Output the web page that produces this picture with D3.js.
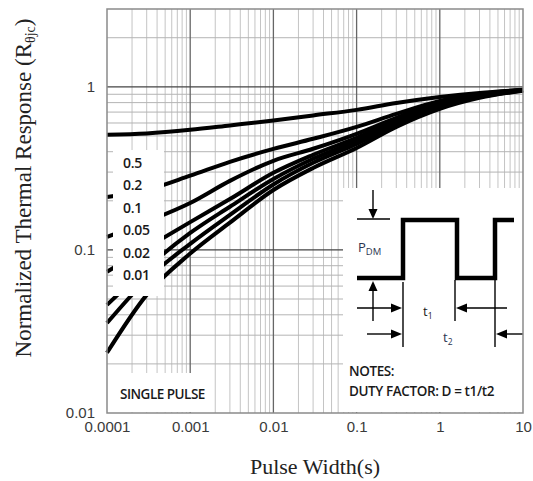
<!DOCTYPE html>
<html>
<head>
<meta charset="UTF-8">
<title>Normalized Thermal Response</title>
<script src="https://cdn.jsdelivr.net/npm/d3@7"></script>
<style>
  body { margin: 0; background: #fff; }
  svg { display: block; }
  .tick text { font-family: "Liberation Sans", Arial, sans-serif; font-size: 15px; fill: #3a3a3a; }
  .note { font-family: "Open Sans", "Liberation Sans", sans-serif; font-weight: 600; fill: #1a1a1a; }
</style>
</head>
<body>
<svg id="chart" width="533" height="481"></svg>
<script>
// pulse width (s) and normalized response per duty factor
var pulseWidth = [1e-4, 3e-4, 1e-3, 3e-3, 1e-2, 3e-2, 0.1, 0.3, 1, 3, 10];
var d05    = [0.508, 0.518, 0.545, 0.58, 0.622, 0.668, 0.722, 0.795, 0.865, 0.918, 0.958];
var d02    = [0.211, 0.233, 0.285, 0.347, 0.416, 0.48, 0.568, 0.683, 0.82, 0.905, 0.956];
var d01    = [0.120, 0.149, 0.194, 0.265, 0.352, 0.417, 0.515, 0.645, 0.798, 0.893, 0.955];
var d005   = [0.0735, 0.103, 0.148, 0.205, 0.297, 0.383, 0.487, 0.619, 0.776, 0.88, 0.953];
var d002   = [0.046, 0.0775, 0.127, 0.184, 0.272, 0.362, 0.466, 0.601, 0.765, 0.874, 0.951];
var d001   = [0.0356, 0.066, 0.109, 0.164, 0.252, 0.342, 0.447, 0.585, 0.754, 0.868, 0.949];
var single = [0.0234, 0.053, 0.095, 0.147, 0.233, 0.318, 0.422, 0.568, 0.733, 0.856, 0.945];

var dutyLabels = ["0.5", "0.2", "0.1", "0.05", "0.02", "0.01"];
var xTicks = [1e-4, 1e-3, 1e-2, 0.1, 1, 10];
var xTickLabels = ["0.0001", "0.001", "0.01", "0.1", "1", "10"];
var yTicks = [0.01, 0.1, 1];
var yTickLabels = ["0.01", "0.1", "1"];

var series = [d05, d02, d01, d005, d002, d001, single];

var pLeft = 107, pRight = 523, pTop = 9, pBottom = 413;

var x = d3.scaleLog().domain([1e-4, 10]).range([pLeft, pRight]);
var y = d3.scaleLog().domain([0.01, 3]).range([pBottom, pTop]);

var svg = d3.select("#chart");

// minor grid
var minorX = [];
[1e-4, 1e-3, 1e-2, 0.1, 1].forEach(function(dec) {
  for (var k = 2; k <= 9; k++) minorX.push(dec * k);
});
var minorY = [];
[0.01, 0.1].forEach(function(dec) {
  for (var k = 2; k <= 9; k++) minorY.push(dec * k);
});
minorY.push(2);

var grid = svg.append("g");
grid.selectAll(".vx").data(minorX).enter().append("line")
  .attr("x1", d => x(d)).attr("x2", d => x(d))
  .attr("y1", pTop).attr("y2", pBottom)
  .style("stroke", "#c4c4c4").style("stroke-width", 1);
grid.selectAll(".hy").data(minorY).enter().append("line")
  .attr("x1", pLeft).attr("x2", pRight)
  .attr("y1", d => y(d)).attr("y2", d => y(d))
  .style("stroke", "#b4b4b4").style("stroke-width", 1);

// decade lines
grid.selectAll(".vmaj").data(xTicks.slice(1, -1)).enter().append("line")
  .attr("x1", d => x(d)).attr("x2", d => x(d))
  .attr("y1", pTop).attr("y2", pBottom)
  .style("stroke", "#666").style("stroke-width", 1.3);
grid.selectAll(".hmaj").data([0.1, 1]).enter().append("line")
  .attr("x1", pLeft).attr("x2", pRight)
  .attr("y1", d => y(d)).attr("y2", d => y(d))
  .style("stroke", "#444").style("stroke-width", 1.3);

// curves
var line = d3.line()
  .x(function(d, i) { return x(pulseWidth[i]); })
  .y(function(d) { return y(d); })
  .curve(d3.curveMonotoneX);

svg.append("g").selectAll("path").data(series).enter().append("path")
  .attr("d", line)
  .style("fill", "none")
  .style("stroke", "#000")
  .style("stroke-width", 4);

// duty factor labels on a white patch
svg.append("rect").attr("x", 113).attr("y", 150).attr("width", 51).attr("height", 146).style("fill", "#fff");
svg.append("g").selectAll("text").data(dutyLabels).enter().append("text")
  .attr("class", "note")
  .attr("x", 123)
  .attr("y", function(d, i) { return 168 + i * 22.4; })
  .style("font-size", "14px")
  .style("letter-spacing", "-0.3px")
  .text(d => d);

// single pulse label
svg.append("rect").attr("x", 108).attr("y", 373).attr("width", 104).attr("height", 39).style("fill", "#fff");
svg.append("text").attr("class", "note")
  .attr("x", 120).attr("y", 399)
  .style("font-size", "13.5px")
  .style("letter-spacing", "-0.5px")
  .text("SINGLE PULSE");

// inset with pulse diagram
var inset = svg.append("g");
inset.append("rect").attr("x", 343).attr("y", 188).attr("width", 180).attr("height", 224).style("fill", "#fff");

inset.append("path")
  .attr("d", "M357,278H403V220H457V278H495V220H514")
  .style("fill", "none").style("stroke", "#000").style("stroke-width", 4.5);

function thin(x1, y1, x2, y2) {
  inset.append("line").attr("x1", x1).attr("y1", y1).attr("x2", x2).attr("y2", y2)
    .style("stroke", "#000").style("stroke-width", 1.4);
}
function arrowHead(tx, ty, dir) {
  var p;
  if (dir == "down") p = [[tx, ty], [tx - 4.5, ty - 10], [tx + 4.5, ty - 10]];
  else if (dir == "up") p = [[tx, ty], [tx - 4.5, ty + 10], [tx + 4.5, ty + 10]];
  else if (dir == "right") p = [[tx, ty], [tx - 11, ty - 4.5], [tx - 11, ty + 4.5]];
  else p = [[tx, ty], [tx + 11, ty - 4.5], [tx + 11, ty + 4.5]];
  inset.append("path").attr("d", "M" + p.join("L") + "Z").style("fill", "#000");
}

// P_DM arrows
thin(373, 190, 373, 211); arrowHead(373, 219, "down");
thin(357, 219, 390, 219);
arrowHead(373, 281, "up"); thin(373, 290, 373, 321);

// extension lines
thin(403, 282, 403, 347);
thin(455, 280, 455, 321);
thin(495, 280, 495, 347);

// t1 row
thin(357, 308, 393, 308); arrowHead(402, 308, "right");
thin(466, 308, 507, 308); arrowHead(456, 308, "left");
// t2 row
thin(367, 334, 393, 334); arrowHead(402, 334, "right");
thin(507, 334, 523, 334); arrowHead(496, 334, "left");

var pdm = inset.append("text").attr("class", "note").attr("x", 358).attr("y", 252)
  .style("font-size", "13px").style("fill", "#2b3550").style("font-weight", 400);
pdm.append("tspan").text("P");
pdm.append("tspan").attr("dy", 3).style("font-size", "9.5px").text("DM");

var t1 = inset.append("text").attr("class", "note").attr("x", 423).attr("y", 316)
  .style("font-size", "13px").style("font-weight", 400);
t1.append("tspan").text("t");
t1.append("tspan").attr("dy", 3).style("font-size", "8.5px").text("1");

var t2 = inset.append("text").attr("class", "note").attr("x", 443).attr("y", 342)
  .style("font-size", "13px").style("font-weight", 400).style("fill", "#2b3550");
t2.append("tspan").text("t");
t2.append("tspan").attr("dy", 3).style("font-size", "8.5px").text("2");

inset.append("text").attr("class", "note").attr("x", 349).attr("y", 376)
  .style("font-size", "13.5px").style("letter-spacing", "-0.4px").text("NOTES:");
inset.append("text").attr("class", "note").attr("x", 349).attr("y", 396)
  .style("font-size", "13.5px").style("letter-spacing", "-0.4px").text("DUTY FACTOR: D = t1/t2");

// frame
svg.append("rect").attr("x", pLeft).attr("y", pTop)
  .attr("width", pRight - pLeft).attr("height", pBottom - pTop)
  .style("fill", "none").style("stroke", "#8a8a8a").style("stroke-width", 1.5);

// axes
var xAxis = d3.axisBottom(x).tickValues(xTicks).tickSize(0).tickPadding(8)
  .tickFormat(function(d, i) { return xTickLabels[i]; });
svg.append("g").attr("transform", "translate(0," + pBottom + ")").call(xAxis)
  .call(g => g.select(".domain").remove());

var yAxis = d3.axisLeft(y).tickValues(yTicks).tickSize(0).tickPadding(12)
  .tickFormat(function(d, i) { return yTickLabels[i]; });
svg.append("g").attr("transform", "translate(" + pLeft + ",0)").call(yAxis)
  .call(g => g.select(".domain").remove());

// titles
svg.append("text")
  .attr("x", 315).attr("y", 474)
  .attr("text-anchor", "middle")
  .style("font-family", "'Liberation Serif', 'Times New Roman', serif")
  .style("font-size", "22px").style("fill", "#222")
  .text("Pulse Width(s)");

var yt = svg.append("text")
  .attr("transform", "translate(31,188) rotate(-90)")
  .attr("text-anchor", "middle")
  .style("font-family", "'Liberation Serif', 'Times New Roman', serif")
  .style("font-size", "23px").style("fill", "#222");
yt.append("tspan").text("Normalized Thermal Response (R");
yt.append("tspan").attr("dy", 4).style("font-size", "14px").text("θjc");
yt.append("tspan").attr("dy", -4).text(")");
</script>
</body>
</html>
